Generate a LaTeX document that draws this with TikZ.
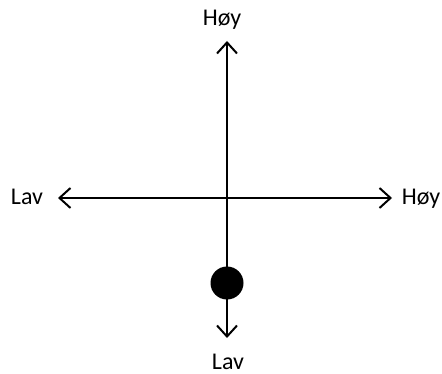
\documentclass[tikz,border=0pt]{standalone}
\usepackage{fontspec}
\setmainfont{Carlito}
\usetikzlibrary{arrows.meta}

\begin{document}
\begin{tikzpicture}[x=1pt, y=-1pt,
  axis/.style={line width=2pt, {Straight Barb[length=11pt, width=20pt, line width=2pt]}-{Straight Barb[length=11pt, width=20pt, line width=2pt]}},
  lbl/.style={font=\fontsize{24}{28}\selectfont, inner sep=0pt}]
  \useasboundingbox (0,0) rectangle (442,374);
  \coordinate (vhigh) at (227,41);
  \coordinate (vlow) at (227,338);
  \coordinate (hlow) at (58,198);
  \coordinate (hhigh) at (392,198);
  \node[lbl, anchor=base] (topHigh) at (222,26) {Høy};
  \node[lbl, anchor=base] (leftLow) at (27,205) {Lav};
  \node[lbl, anchor=base] (rightHigh) at (421,205) {Høy};
  \node[lbl, anchor=base] (bottomLow) at (228,369) {Lav};
  \draw[axis] (vlow) -- (vhigh);
  \draw[axis] (hlow) -- (hhigh);
  \node[circle, fill=black, minimum size=33pt, inner sep=0pt] (point) at (227,283) {};
\end{tikzpicture}
\end{document}
